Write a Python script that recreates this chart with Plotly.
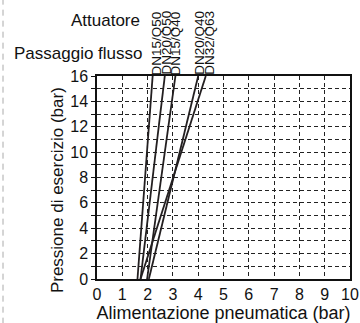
import plotly.graph_objects as go

# Data: each line runs from (x_start, 0 bar) to (x_end, 16 bar)
series_names = ["DN15/Q50", "DN20/Q50", "DN15/Q40", "DN20/Q40", "DN32/Q63"]
x_start = [1.60, 1.72, 1.98, 2.05, 1.72]
x_end = [2.20, 2.68, 3.10, 4.00, 4.30]
pressure_range = [0, 16]
x_ticks = list(range(0, 11))
y_ticks = list(range(0, 17))
y_tick_labels = [str(v) if v % 2 == 0 else "" for v in y_ticks]

# label positions (layout only)
label_x = [2.35, 2.71, 3.10, 4.02, 4.42]

FONT = "Liberation Sans, Arial, sans-serif"
LINE_COLOR = "#231f20"

fig = go.Figure()
for name, x0, x1 in zip(series_names, x_start, x_end):
    fig.add_trace(go.Scatter(
        x=[x0, x1], y=pressure_range, mode="lines", name=name,
        line=dict(color=LINE_COLOR, width=1.8), showlegend=False,
        hoverinfo="skip",
    ))

annotations = []
for name, lx in zip(series_names, label_x):
    annotations.append(dict(
        x=lx, y=1, xref="x", yref="paper", text=name, textangle=-90,
        showarrow=False, xanchor="center", yanchor="bottom", yshift=-1,
        font=dict(family=FONT, size=13.5, color="#111"),
    ))
annotations.append(dict(
    x=0.178, y=1.271, xref="paper", yref="paper", text="Attuatore",
    showarrow=False, xanchor="right", yanchor="middle",
    font=dict(family=FONT, size=17, color="#111"),
))
annotations.append(dict(
    x=0.190, y=1.113, xref="paper", yref="paper", text="Passaggio flusso",
    showarrow=False, xanchor="right", yanchor="middle",
    font=dict(family=FONT, size=17, color="#111"),
))
annotations.append(dict(
    x=-0.158, y=0.438, xref="paper", yref="paper",
    text="Pressione di esercizio (bar)", textangle=-90,
    showarrow=False, xanchor="center", yanchor="middle",
    font=dict(family=FONT, size=17, color="#111"),
))

fig.add_shape(type="line", xref="paper", yref="paper",
              x0=-0.3715, x1=-0.3715, y0=-0.22, y1=1.38,
              line=dict(color="#aaaaaa", width=1, dash="6px,5px"))

fig.update_layout(
    width=360, height=323,
    margin=dict(l=97, r=10, t=76, b=44),
    paper_bgcolor="white", plot_bgcolor="white",
    font=dict(family=FONT, color="#111"),
    annotations=annotations,
)
fig.update_xaxes(
    range=[0, 10], tickvals=x_ticks, ticktext=[str(v) for v in x_ticks],
    showgrid=True, gridcolor="#222", gridwidth=1, griddash="4px,3px",
    showline=True, linecolor="#111", linewidth=1.5, mirror=True,
    ticks="", zeroline=False,
    tickfont=dict(size=16, family=FONT, color="#111"),
    title=dict(text="Alimentazione pneumatica (bar)", standoff=4,
               font=dict(size=18, family=FONT, color="#111")),
    automargin=False,
)
fig.update_yaxes(
    range=[0, 16], tickvals=y_ticks, ticktext=y_tick_labels,
    showgrid=True, gridcolor="#222", gridwidth=1, griddash="4px,3px",
    showline=True, linecolor="#111", linewidth=1.5, mirror=True,
    ticks="outside", ticklen=4, tickcolor="#111", zeroline=False,
    tickfont=dict(size=16, family=FONT, color="#111"),
    automargin=False,
)

fig.write_html("out.html", config={"displayModeBar": False},
               post_script="document.body.style.margin='0';")
